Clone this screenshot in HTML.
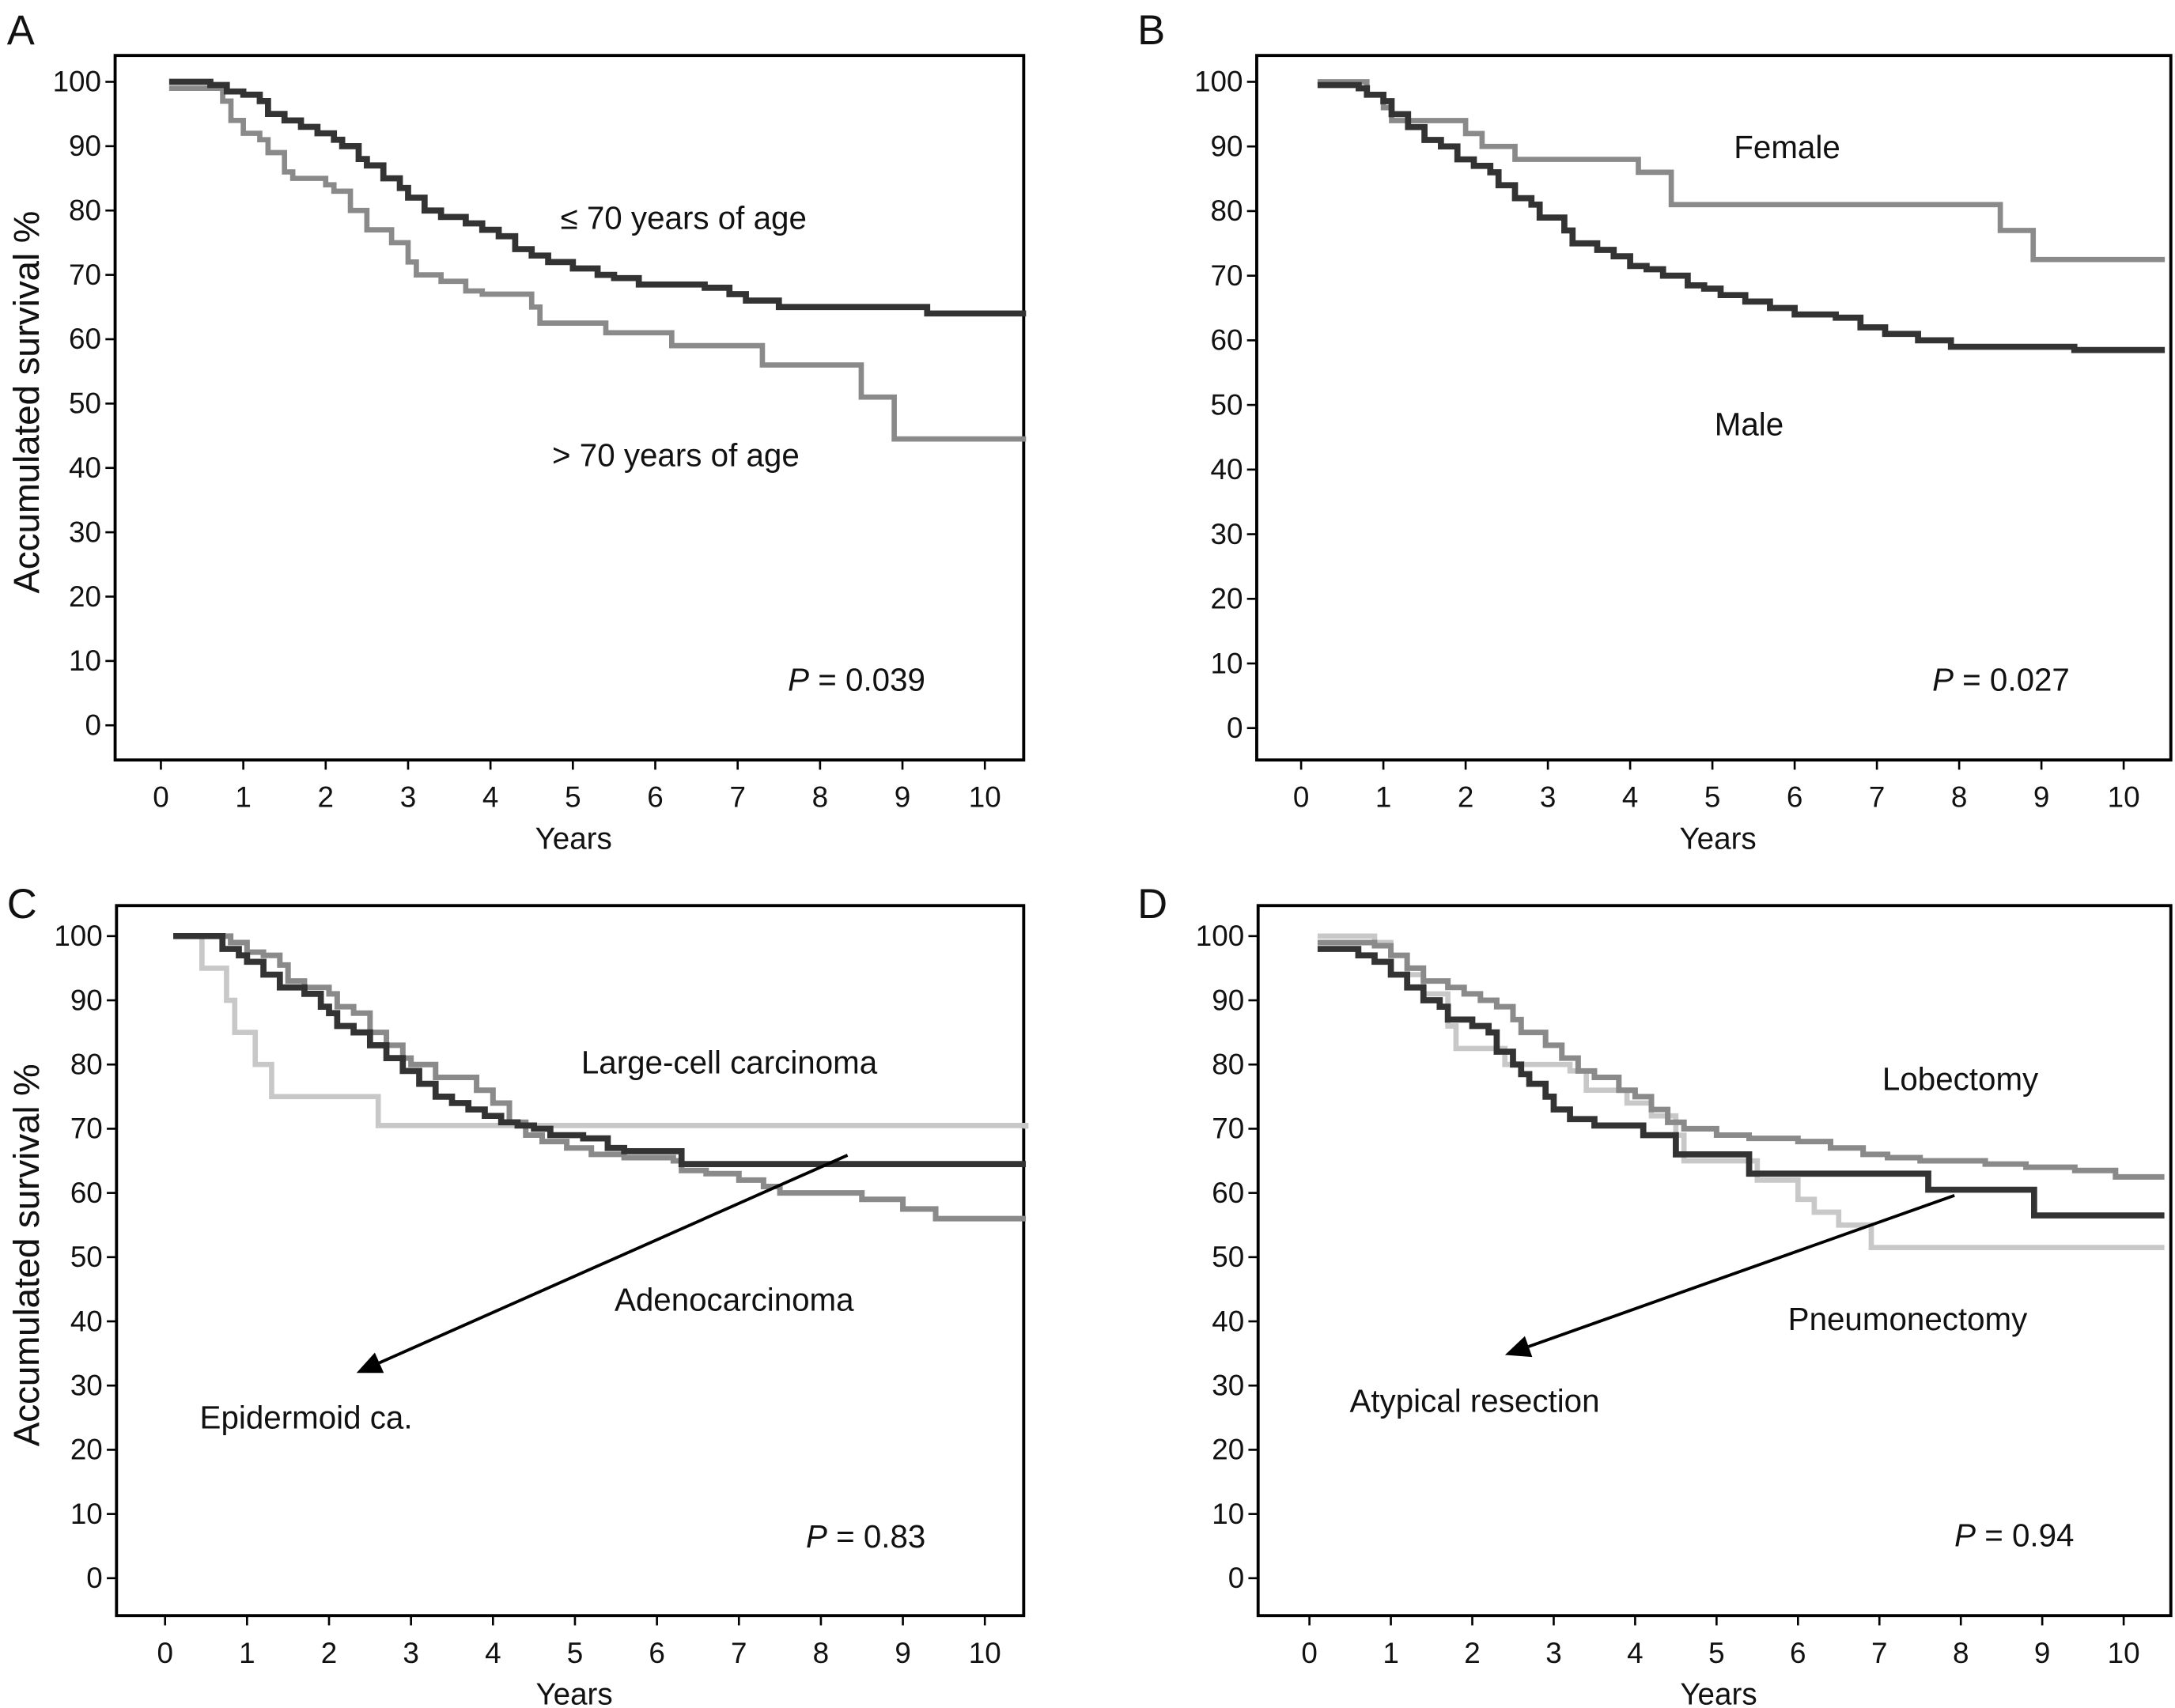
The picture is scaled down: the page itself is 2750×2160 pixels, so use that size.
<!DOCTYPE html>
<html><head><meta charset="utf-8"><style>
html,body{margin:0;padding:0;background:#fff;}
svg{display:block;}
text{font-family:"Liberation Sans",Arial,sans-serif;fill:#111;}
</style></head><body>
<svg id="fig" width="2750" height="2160" viewBox="0 0 1568 1231.6" preserveAspectRatio="none" xmlns="http://www.w3.org/2000/svg"></svg>
<script>
// ---- Data (years, survival %) ----
const xTicks = [0,1,2,3,4,5,6,7,8,9,10];
const yTicks = [0,10,20,30,40,50,60,70,80,90,100];
// Panel A
const aYoungT = [0.1,0.6,0.8,1.0,1.2,1.3,1.5,1.7,1.9,2.1,2.2,2.4,2.5,2.7,2.9,3.0,3.2,3.4,3.7,3.9,4.1,4.3,4.5,4.7,5.0,5.3,5.5,5.8,6.6,6.9,7.1,7.5,9.3,10.5];
const aYoungS = [100,99.5,98.5,98,97,95,94,93,92,91,90,88,87,85,83.5,82,80,79,78,77,76,74,73,72,71,70,69.5,68.5,68,67,66,65,64,64];
const aOldT = [0.1,0.65,0.75,0.85,1.0,1.2,1.3,1.5,1.6,2.0,2.1,2.3,2.5,2.8,3.0,3.1,3.4,3.7,3.9,4.5,4.6,5.4,6.2,7.3,8.5,8.9,10.5];
const aOldS = [99,99,97,94,92,91,89,86,85,84,83,80,77,75,72,70,69,67.5,67,65,62.5,61,59,56,51,44.5,44.5];
// Panel B
const bMaleT = [0.2,0.7,0.8,1.0,1.1,1.3,1.5,1.7,1.9,2.1,2.3,2.4,2.6,2.8,2.9,3.2,3.3,3.6,3.8,4.0,4.2,4.4,4.7,4.9,5.1,5.4,5.7,6.0,6.5,6.8,7.1,7.5,7.9,9.4,10.5];
const bMaleS = [99.5,99,98,97,95,93,91,90,88,87,86,84,82,81,79,77,75,74,73,71.5,71,70,68.5,68,67,66,65,64,63.5,62,61,60,59,58.5,58.5];
const bFemaleT = [0.2,0.8,1.0,1.1,2.0,2.2,2.6,4.1,4.5,8.5,8.9,10.5];
const bFemaleS = [100,98,96,94,92,90,88,86,81,77,72.5,72.5];
// Panel C
const cAdenoT = [0.1,0.7,0.9,1.0,1.2,1.4,1.7,1.9,2.0,2.1,2.3,2.5,2.7,2.9,3.1,3.3,3.5,3.7,3.9,4.1,4.3,4.5,4.7,5.1,5.4,5.6,6.3,10.5];
const cAdenoS = [100,98,97,96,94,92,91,89,88,86,85,83,81,79,77,75,74,73,72,71,70.5,70,69,68.5,67,66.5,64.5,64.5];
const cEpiT = [0.1,0.8,1.0,1.2,1.4,1.5,1.7,2.0,2.1,2.3,2.5,2.7,2.9,3.0,3.3,3.8,4.0,4.2,4.4,4.6,4.9,5.2,5.6,6.2,6.3,6.6,7.0,7.3,7.5,8.5,9.0,9.4,10.5];
const cEpiS = [100,99,97.5,97,95.5,93,92,91,89,88,85,83,81,80,78,76,74,71,69,68,67,66,65.5,65,63.5,63,62,61,60,59,57.5,56,56];
const cLargeT = [0.1,0.45,0.75,0.85,1.1,1.3,2.6,10.5];
const cLargeS = [100,95,90,85,80,75,70.5,70];
// Panel D
const dPneumT = [0.1,0.6,0.8,1.0,1.2,1.4,1.6,1.7,2.0,2.2,2.3,2.5,2.6,2.7,2.9,3.0,3.2,3.5,4.1,4.5,5.4,7.6,8.9,10.5];
const dPneumS = [98,97,96,94,92,90,89,87,86,85,82,80,78.5,77,75,73,71.5,70.5,69,66,63,60.5,56.5,56.5];
const dLobT = [0.1,0.8,1.0,1.2,1.4,1.7,1.9,2.1,2.3,2.5,2.6,2.9,3.1,3.3,3.5,3.8,4.0,4.2,4.4,4.6,5.0,5.4,6.0,6.4,6.8,7.1,7.5,8.3,8.8,9.4,9.9,10.5];
const dLobS = [99,98.5,97,95,93,92,91,90,89,87,85,83,81,79,78,76,75,73,71,70,69,68.5,68,67,66,65.5,65,64.5,64,63.5,62.5,62.5];
const dAtypT = [0.1,0.8,1.0,1.2,1.4,1.7,1.8,2.4,3.2,3.4,3.9,4.2,4.5,4.6,5.5,6.0,6.2,6.5,6.9,10.5];
const dAtypS = [100,99,97,94,91,86,82.5,80,79,76,74,72,69,65,62,59,57,55,51.5,51.5];

const NS='http://www.w3.org/2000/svg';
const svg=document.getElementById('fig');
function mk(tag,attrs,parent){const e=document.createElementNS(NS,tag);for(const k in attrs)e.setAttribute(k,attrs[k]);(parent||svg).appendChild(e);return e;}

const panels=[
 {id:'a',letter:'A',lx:5,ly:32,box:[83,40,738,548],x0:116,x10:710,y100:59,y0:523,
  series:[{t:aOldT,s:aOldS,c:'#8a8a8a',w:3.8,n:'over-70-curve'},{t:aYoungT,s:aYoungS,c:'#333',w:4.4,n:'under-70-curve'}],
  labels:[['≤ 70 years of age',404,165,'under-70-label'],['> 70 years of age',398,336,'over-70-label']],p:['0.039',568,498]},
 {id:'b',letter:'B',lx:820,ly:32,box:[906,40,1565,548],x0:938,x10:1531,y100:59,y0:525,
  series:[{t:bFemaleT,s:bFemaleS,c:'#8a8a8a',w:3.8,n:'female-curve'},{t:bMaleT,s:bMaleS,c:'#333',w:4.4,n:'male-curve'}],
  labels:[['Female',1250,114,'female-label'],['Male',1236,314,'male-label']],p:['0.027',1393,498]},
 {id:'c',letter:'C',lx:5,ly:662,box:[84,653,738,1165],x0:119,x10:710,y100:675,y0:1138,
  series:[{t:cLargeT,s:cLargeS,c:'#c8c8c8',w:3.8,n:'large-cell-curve'},{t:cEpiT,s:cEpiS,c:'#8a8a8a',w:4,n:'epidermoid-curve'},{t:cAdenoT,s:cAdenoS,c:'#333',w:4.4,n:'adenocarcinoma-curve'}],
  labels:[['Large-cell carcinoma',419,774,'large-cell-label'],['Adenocarcinoma',443,945,'adenocarcinoma-label'],['Epidermoid ca.',144,1030,'epidermoid-label']],p:['0.83',581,1116],
  arrow:[611,833,257,990]},
 {id:'d',letter:'D',lx:820,ly:662,box:[907,653,1565,1165],x0:944,x10:1531,y100:675,y0:1138,
  series:[{t:dAtypT,s:dAtypS,c:'#c8c8c8',w:3.8,n:'atypical-resection-curve'},{t:dPneumT,s:dPneumS,c:'#333',w:4.4,n:'pneumonectomy-curve'},{t:dLobT,s:dLobS,c:'#8a8a8a',w:4,n:'lobectomy-curve'}],
  labels:[['Lobectomy',1357,786,'lobectomy-label'],['Pneumonectomy',1289,959,'pneumonectomy-label'],['Atypical resection',973,1018,'atypical-resection-label']],p:['0.94',1409,1115],
  arrow:[1409,862,1085,977]}
];

panels.forEach(P=>{
 const g=mk('g',{});
 
 
 const xs=v=>P.x0+(P.x10-P.x0)*v/10;
 const ys=v=>P.y0+(P.y100-P.y0)*v/100;
 const L=mk('text',{x:P.lx,y:P.ly,'font-size':30},g);L.textContent=P.letter;
 
 
 const [bx1,by1,bx2,by2]=P.box;
 const r=mk('rect',{x:bx1,y:by1,width:bx2-bx1,height:by2-by1,fill:'none',stroke:'#000','stroke-width':2.2},g);
 
 
 yTicks.forEach(v=>{
  const y=ys(v);
  const tl=mk('line',{x1:bx1-7,x2:bx1,y1:y,y2:y,stroke:'#000','stroke-width':1.5},g);
  
  
  const t=mk('text',{x:bx1-10,y:y+7,'font-size':21,'text-anchor':'end'},g);t.textContent=v;
  
  
 });
 xTicks.forEach(v=>{
  const x=xs(v);
  const tl=mk('line',{x1:x,x2:x,y1:by2,y2:by2+7,stroke:'#000','stroke-width':1.5},g);
  
  
  const t=mk('text',{x:x,y:by2+34,'font-size':21,'text-anchor':'middle'},g);t.textContent=v;
  
  
 });
 const xt=mk('text',{x:(bx1+bx2)/2+3,y:by2+64,'font-size':22,'text-anchor':'middle'},g);xt.textContent='Years';
 
 
 const cy=(by1+by2)/2;
 const yt=mk('text',{x:0,y:0,'font-size':26,'text-anchor':'middle',transform:`translate(28,${cy-4}) rotate(-90)`},g);yt.textContent='Accumulated survival %';
 
 
 P.series.forEach(S=>{
  let d='M'+xs(S.t[0])+','+ys(S.s[0]);
  for(let i=1;i<S.t.length;i++){d+=' H'+xs(S.t[i])+' V'+ys(S.s[i]);}
  const p=mk('path',{d:d,fill:'none',stroke:S.c,'stroke-width':S.w},g);
  
  
 });
 P.labels.forEach(l=>{
  const t=mk('text',{x:l[1],y:l[2],'font-size':23},g);t.textContent=l[0];
  
  
 });
 const pt=mk('text',{x:P.p[1],y:P.p[2],'font-size':23},g);
 pt.innerHTML='<tspan font-style="italic">P</tspan> = '+P.p[0];
 
 
 if(P.arrow){
  const [x1,y1,x2,y2]=P.arrow;
  const ang=Math.atan2(y2-y1,x2-x1);
  const len=18,hw=8;
  const bxp=x2-len*Math.cos(ang),byp=y2-len*Math.sin(ang);
  const ln=mk('line',{x1:x1,y1:y1,x2:bxp,y2:byp,stroke:'#000','stroke-width':2.2},g);
  
  
  const px=-Math.sin(ang)*hw,py=Math.cos(ang)*hw;
  const hd=mk('polygon',{points:`${x2},${y2} ${bxp+px},${byp+py} ${bxp-px},${byp-py}`,fill:'#000'},g);
  
  
 }
});
</script>
</body></html>
